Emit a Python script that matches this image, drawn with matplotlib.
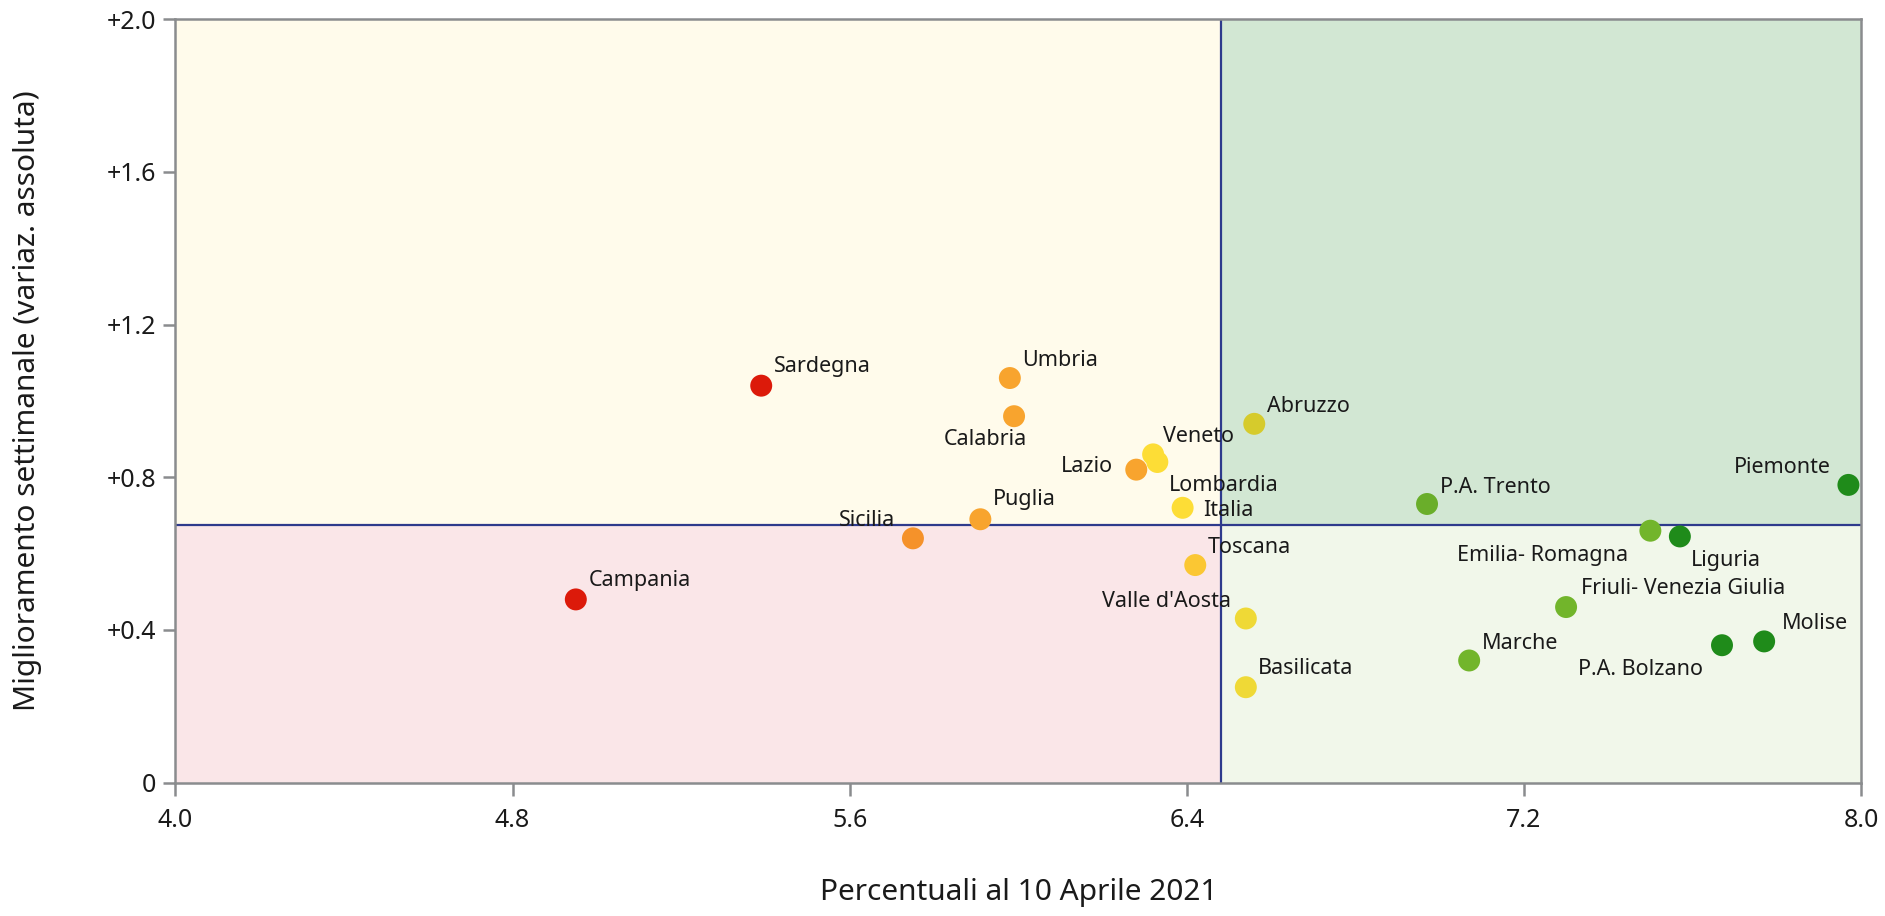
import matplotlib
matplotlib.use("Agg")
from matplotlib import pyplot as plt

plt.rcParams["font.family"] = ["Noto Sans", "DejaVu Sans"]

# regions: percent at 10 April 2021 vs weekly improvement
regions = ["Sardegna", "Umbria", "Calabria", "Abruzzo", "Veneto", "Lombardia",
           "Lazio", "Italia", "Puglia", "Sicilia", "Toscana", "Valle d'Aosta",
           "Basilicata", "Campania", "P.A. Trento", "Emilia- Romagna", "Liguria",
           "Friuli- Venezia Giulia", "Marche", "P.A. Bolzano", "Molise", "Piemonte"]
percent = [5.39, 5.98, 5.99, 6.56, 6.32, 6.33,
           6.28, 6.39, 5.91, 5.75, 6.42, 6.54,
           6.54, 4.95, 6.97, 7.50, 7.57,
           7.30, 7.07, 7.67, 7.77, 7.97]
improvement = [1.04, 1.06, 0.96, 0.94, 0.86, 0.84,
               0.82, 0.72, 0.69, 0.64, 0.57, 0.43,
               0.25, 0.48, 0.73, 0.66, 0.645,
               0.46, 0.32, 0.36, 0.37, 0.78]
colors = ["#dc1a0a", "#f8a42e", "#f8a42e", "#d6cb2c", "#fddd36", "#fddd36",
          "#f8a42e", "#fddd36", "#f8a42e", "#f5922a", "#fbc733", "#efd936",
          "#efd936", "#dc1a0a", "#6aae2a", "#72b52b", "#1f8b1a",
          "#72b52b", "#72b52b", "#1f8b1a", "#1f8b1a", "#1f8b1a"]

x_ref = 6.48   # vertical divider
y_ref = 0.674  # horizontal divider

# label placement: (dx, dy in points, ha, va)
placement = {
    "Sardegna": (9, 6, "left", "bottom"),
    "Umbria": (9, 5, "left", "bottom"),
    "Calabria": (9, -9, "right", "top"),
    "Abruzzo": (9, 5, "left", "bottom"),
    "Veneto": (7, 5, "left", "bottom"),
    "Lombardia": (8, -9, "left", "top"),
    "Lazio": (-17, 2, "right", "center"),
    "Italia": (15, -2, "left", "center"),
    "Puglia": (9, 7, "left", "bottom"),
    "Sicilia": (-13, 5, "right", "bottom"),
    "Toscana": (9, 5, "left", "bottom"),
    "Valle d'Aosta": (-11, 5, "right", "bottom"),
    "Basilicata": (9, 6, "left", "bottom"),
    "Campania": (9, 6, "left", "bottom"),
    "P.A. Trento": (9, 4, "left", "bottom"),
    "Emilia- Romagna": (-16, -10, "right", "top"),
    "Liguria": (8, -10, "left", "top"),
    "Friuli- Venezia Giulia": (11, 6, "left", "bottom"),
    "Marche": (9, 5, "left", "bottom"),
    "P.A. Bolzano": (-14, -10, "right", "top"),
    "Molise": (13, 5, "left", "bottom"),
    "Piemonte": (-13, 5, "right", "bottom"),
}

fig = plt.figure(figsize=(18.85, 9.16), dpi=100)
ax = fig.add_axes([0.0931, 0.1456, 0.8942, 0.8334])
ax.set_xlim(4.0, 8.0)
ax.set_ylim(0, 2.0)

# quadrant backgrounds
ax.axvspan(4.0, x_ref, ymin=y_ref / 2.0, ymax=1, color="#fffbeb", lw=0, zorder=0)
ax.axvspan(4.0, x_ref, ymin=0, ymax=y_ref / 2.0, color="#fae6e8", lw=0, zorder=0)
ax.axvspan(x_ref, 8.0, ymin=y_ref / 2.0, ymax=1, color="#d2e7d3", lw=0, zorder=0)
ax.axvspan(x_ref, 8.0, ymin=0, ymax=y_ref / 2.0, color="#f1f7ea", lw=0, zorder=0)

ax.axvline(x_ref, color="#2e3a8c", lw=1.6, zorder=1)
ax.axhline(y_ref, color="#2e3a8c", lw=1.6, zorder=1)

ax.scatter(percent, improvement, s=250, c=colors, edgecolors="none", zorder=3, clip_on=False)

for name, x, y in zip(regions, percent, improvement):
    dx, dy, ha, va = placement[name]
    ax.annotate(name, (x, y), xytext=(dx, dy), textcoords="offset points",
                ha=ha, va=va, fontsize=15.5, color="#1a1a1a", zorder=4)

ax.set_xticks([4.0, 4.8, 5.6, 6.4, 7.2, 8.0])
ax.set_xticklabels(["4.0", "4.8", "5.6", "6.4", "7.2", "8.0"])
ax.set_yticks([0, 0.4, 0.8, 1.2, 1.6, 2.0])
ax.set_yticklabels(["0", "+0.4", "+0.8", "+1.2", "+1.6", "+2.0"])

for s in ax.spines.values():
    s.set_color("#8a8c8e")
    s.set_linewidth(1.8)
ax.tick_params(direction="out", length=9, width=1.8, color="#8a8c8e",
               labelsize=18, labelcolor="#1a1a1a", pad=5)
ax.tick_params(axis="x", pad=9)

ax.set_xlabel("Percentuali al 10 Aprile 2021", fontsize=21.5, color="#1a1a1a")
ax.set_ylabel("Miglioramento settimanale (variaz. assoluta)", fontsize=21.5,
              color="#1a1a1a")
ax.xaxis.set_label_coords(0.5, -0.125)
ax.yaxis.set_label_coords(-0.079, 0.5)

fig.savefig("out.png", dpi=100)
